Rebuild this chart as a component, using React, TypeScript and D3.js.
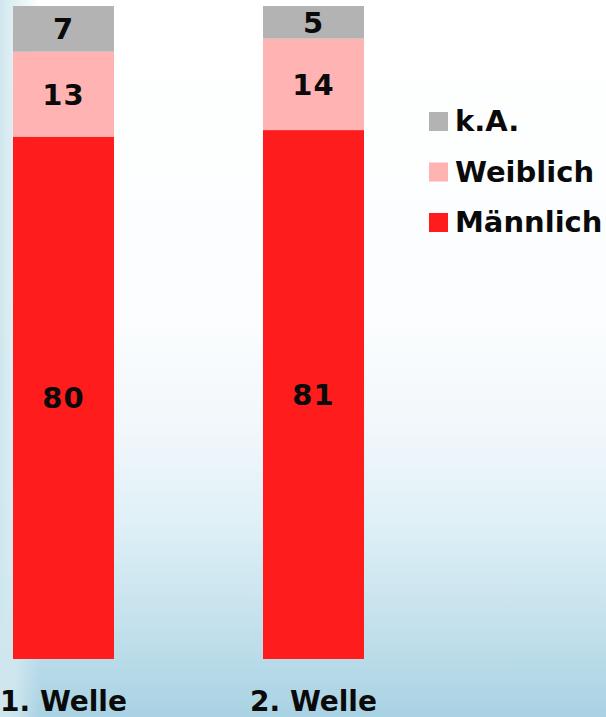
import React from "react";
import * as d3 from "d3";

const categories = ["1. Welle", "2. Welle"];
const seriesNames = ["Männlich", "Weiblich", "k.A."];
const maennlich = [80, 81];
const weiblich = [13, 14];
const keineAngabe = [7, 5];
const legendOrder = ["k.A.", "Weiblich", "Männlich"];

const W = 606;
const H = 717;
const colors: Record<string, string> = {
  "Männlich": "#ff1c1c",
  "Weiblich": "#ffb3b3",
  "k.A.": "#b3b3b3",
};
const FONT = "'DejaVu Sans', sans-serif";

export default function App() {
  const rows = categories.map((c, i) => ({
    cat: c,
    "Männlich": maennlich[i],
    "Weiblich": weiblich[i],
    "k.A.": keineAngabe[i],
  }));
  const stack = d3.stack<any>().keys(seriesNames)(rows);
  const x = d3.scaleBand().domain(categories).range([13, 364]).paddingInner(0.596).paddingOuter(0);
  const y = d3.scaleLinear().domain([0, 100]).range([659, 6]);
  const legendY = d3.scalePoint().domain(legendOrder).range([131, 232]);

  return (
    <svg width={W} height={H} style={{ position: "absolute", left: 0, top: 0 }} fontFamily={FONT}>
      <defs>
        <linearGradient id="bg" x1="0" y1="0" x2="0" y2="1">
          <stop offset="0" stopColor="#ffffff" />
          <stop offset="0.45" stopColor="#fbfdfe" />
          <stop offset="0.6" stopColor="#f1f7fb" />
          <stop offset="0.73" stopColor="#dff0f7" />
          <stop offset="0.87" stopColor="#c4e1ec" />
          <stop offset="1" stopColor="#a8d2e3" />
        </linearGradient>
        <linearGradient id="leftStrip" x1="0" y1="0" x2="1" y2="0">
          <stop offset="0" stopColor="#cfe6ee" stopOpacity="1" />
          <stop offset="0.4" stopColor="#d8ebf1" stopOpacity="0.7" />
          <stop offset="1" stopColor="#d8ebf1" stopOpacity="0" />
        </linearGradient>
      </defs>
      <rect x={0} y={0} width={W} height={H} fill="url(#bg)" />
      <rect x={0} y={0} width={40} height={H} fill="url(#leftStrip)" />

      {stack.map((layer) => (
        <g key={layer.key} fill={colors[layer.key]}>
          {layer.map((d: any, i: number) => (
            <rect
              key={i}
              x={x(d.data.cat)}
              y={y(d[1])}
              width={x.bandwidth()}
              height={y(d[0]) - y(d[1])}
            />
          ))}
        </g>
      ))}

      {stack.map((layer) => (
        <g key={"l" + layer.key}>
          {layer.map((d: any, i: number) => (
            <text
              key={i}
              x={(x(d.data.cat) as number) + x.bandwidth() / 2}
              y={(y(d[0]) + y(d[1])) / 2}
              dy="0.36em"
              textAnchor="middle"
              fontSize={29}
              fontWeight="bold"
              letterSpacing={1}
              fill="#0a0a0a"
            >
              {d[1] - d[0]}
            </text>
          ))}
        </g>
      ))}

      {categories.map((c) => (
        <text
          key={c}
          x={(x(c) as number) + x.bandwidth() / 2}
          y={711}
          textAnchor="middle"
          fontSize={28}
          fontWeight="bold"
          fill="#0a0a0a"
        >
          {c}
        </text>
      ))}

      {legendOrder.map((k) => (
        <g key={k} transform={`translate(429,${legendY(k)})`}>
          <rect x={0} y={-19} width={19} height={19} fill={colors[k]} />
          <text x={26} y={0} fontSize={29} fontWeight="bold" fill="#0a0a0a">
            {k}
          </text>
        </g>
      ))}
    </svg>
  );
}
